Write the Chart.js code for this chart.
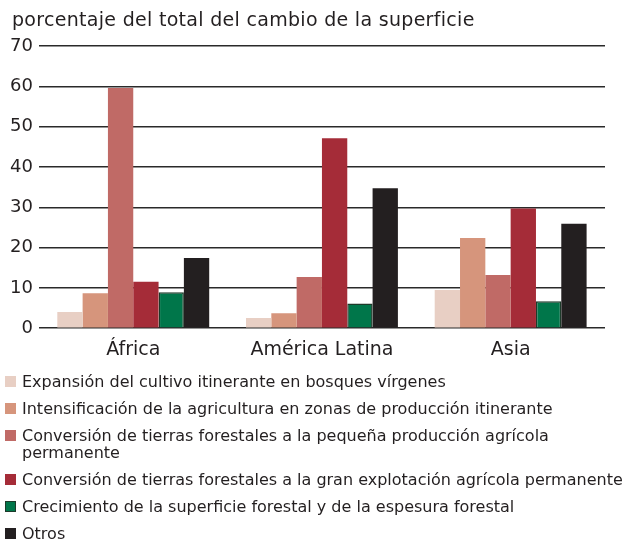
<!DOCTYPE html>
<html><head><meta charset="utf-8">
<script src="https://cdn.jsdelivr.net/npm/chart.js@4"></script>
<style>
html,body{margin:0;padding:0;background:#fff;}
#wrap{position:relative;width:629px;height:375px;}
#title{position:absolute;left:12px;top:8px;font-family:"DejaVu Sans";font-size:19px;letter-spacing:0.3px;color:#231f20;white-space:nowrap;}
#legend{margin:-2px 0 0 0;padding:0;list-style:none;font-family:"DejaVu Sans";font-size:16px;color:#231f20;}
#legend li{position:relative;padding-left:22px;line-height:17px;margin-bottom:10px;white-space:nowrap;}
#legend li span.box{position:absolute;left:5px;top:3px;width:11px;height:11px;box-sizing:border-box;}
</style></head><body>
<div id="wrap"><canvas id="c" width="629" height="375"></canvas><div id="title"></div></div>
<ul id="legend"></ul>
<script>
const titleText = "porcentaje del total del cambio de la superficie";
const categories = ["África", "América Latina", "Asia"];
const seriesNames = [
  "Expansión del cultivo itinerante en bosques vírgenes",
  "Intensificación de la agricultura en zonas de producción itinerante",
  "Conversión de tierras forestales a la pequeña producción agrícola\npermanente",
  "Conversión de tierras forestales a la gran explotación agrícola permanente",
  "Crecimiento de la superficie forestal y de la espesura forestal",
  "Otros"
];
const expansion = [4.0, 2.5, 9.5];
const intensificacion = [8.7, 3.7, 22.4];
const pequena = [59.6, 12.7, 13.2];
const gran = [11.5, 47.1, 29.7];
const crecimiento = [8.9, 6.1, 6.7];
const otros = [17.4, 34.7, 25.9];
const yTicks = [0, 10, 20, 30, 40, 50, 60, 70];
const colors = ["#e8cfc4", "#d6957c", "#c06a66", "#a52c38", "#00764a", "#231f20"];
const borders = [null, null, null, null, "#1d3a2a", null];
const values = [expansion, intensificacion, pequena, gran, crecimiento, otros];

document.getElementById('title').textContent = titleText;

const datasets = values.map((v, i) => ({
  label: seriesNames[i],
  data: v,
  backgroundColor: colors[i],
  borderColor: borders[i] || colors[i],
  borderWidth: borders[i] ? 1.5 : 0,
  barPercentage: 1.0,
  categoryPercentage: 0.805
}));

new Chart(document.getElementById('c'), {
  type: 'bar',
  data: { labels: categories, datasets },
  options: {
    responsive: false,
    animation: false,
    layout: { padding: { left: 4, right: 24, top: 46, bottom: 4 } },
    plugins: {
      legend: { display: false },
      tooltip: { enabled: false },
      title: { display: false }
    },
    scales: {
      x: {
        grid: { display: false, drawTicks: false },
        border: { display: false },
        ticks: { color: '#231f20', font: { family: 'DejaVu Sans', size: 19 }, padding: 10 }
      },
      y: {
        min: 0, max: 70,
        afterBuildTicks: (ax) => { ax.ticks = yTicks.map(v => ({ value: v })); },
        grid: { color: '#2a2a2a', lineWidth: 1.5, drawTicks: false },
        border: { display: false },
        ticks: { color: '#231f20', font: { family: 'DejaVu Sans', size: 18 }, padding: 6 }
      }
    }
  }
});

const lg = document.getElementById('legend');
seriesNames.forEach((n, i) => {
  const li = document.createElement('li');
  const b = document.createElement('span');
  b.className = 'box';
  b.style.background = colors[i];
  if (borders[i]) b.style.border = '1.5px solid ' + borders[i];
  li.appendChild(b);
  n.split('\n').forEach((t, k) => {
    if (k) li.appendChild(document.createElement('br'));
    li.appendChild(document.createTextNode(t));
  });
  lg.appendChild(li);
});
</script>
</body></html>
